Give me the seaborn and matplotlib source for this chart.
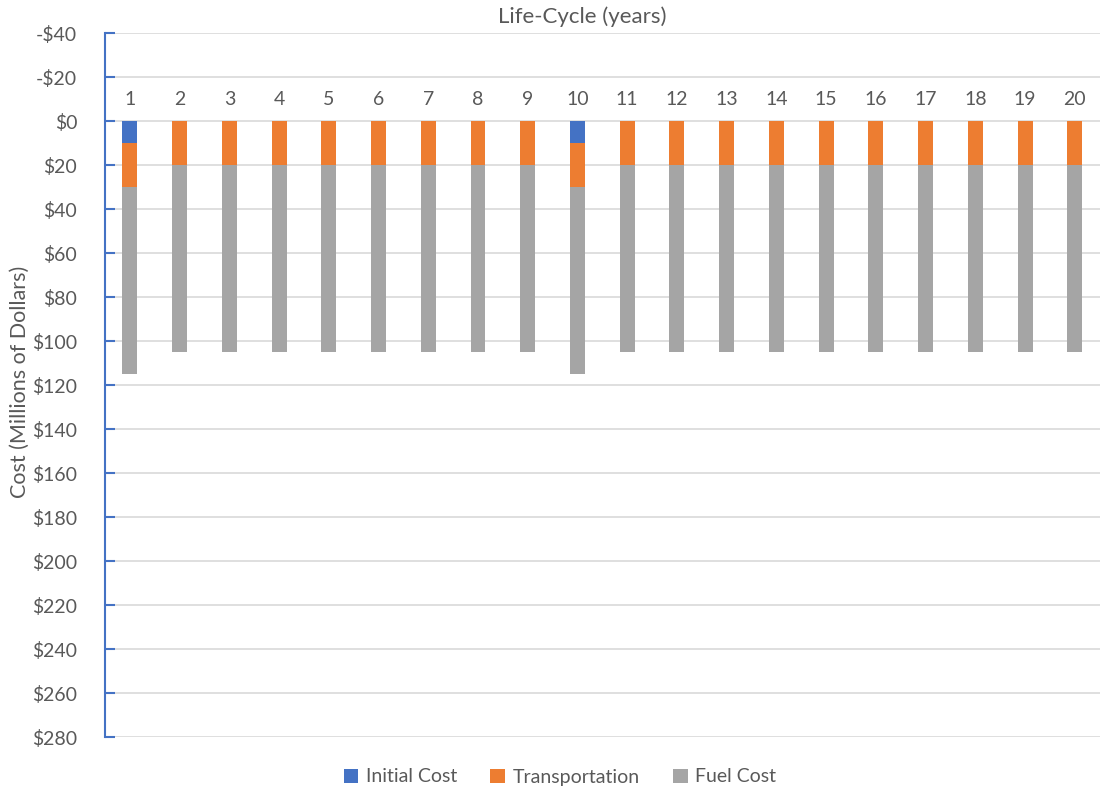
import matplotlib
matplotlib.use("Agg")
import matplotlib.pyplot as plt
from matplotlib.patches import Patch
import seaborn as sns
import pandas as pd

# Life-cycle cost per year (millions of dollars)
years = [str(y) for y in range(1, 21)]
initial_cost = [10, 0, 0, 0, 0, 0, 0, 0, 0, 10, 0, 0, 0, 0, 0, 0, 0, 0, 0, 0]
transportation = [20] * 20
fuel_cost = [85] * 20

y_ticks = list(range(-40, 281, 20))

sns.set_theme(style="white")
plt.rcParams["font.family"] = ["Lato", "DejaVu Sans"]

text_color = "#595959"
colors = {"Initial Cost": "#4472C4", "Transportation": "#ED7D31", "Fuel Cost": "#A5A5A5"}

df = pd.DataFrame({
    "year": years,
    "Initial Cost": initial_cost,
    "Transportation": transportation,
    "Fuel Cost": fuel_cost,
})
# cumulative stack heights, drawn back to front
df["to_transport"] = df["Initial Cost"] + df["Transportation"]
df["to_fuel"] = df["to_transport"] + df["Fuel Cost"]

W, H = 1103, 792
fig = plt.figure(figsize=(W / 100, H / 100), dpi=100)
ax = fig.add_axes([0.0952, 0.0694, 0.9018, 0.8889])

for col, name in [("to_fuel", "Fuel Cost"), ("to_transport", "Transportation"),
                  ("Initial Cost", "Initial Cost")]:
    sns.barplot(data=df, x="year", y=col, color=colors[name], width=0.3,
                saturation=1, ax=ax, edgecolor="none", linewidth=0)

ax.set_ylim(280, -40)
ax.set_xlim(-0.5, len(years) - 0.5)
ax.set_yticks(y_ticks)
ax.set_yticklabels([f"-${-v}" if v < 0 else f"${v}" for v in y_ticks],
                   fontsize=14, color=text_color)
ax.yaxis.grid(True, color="#D9D9D9", linewidth=1.2)
ax.set_axisbelow(True)

for s in ["top", "right", "bottom"]:
    ax.spines[s].set_visible(False)
ax.spines["left"].set_color("#4472C4")
ax.spines["left"].set_linewidth(1.5)
ax.tick_params(axis="y", direction="in", length=7, width=1.5, color="#4472C4",
               left=True, pad=20)

# category labels sit just above the zero line
ax.tick_params(axis="x", bottom=False, labelbottom=False)
for i, lab in enumerate(years):
    ax.text(i, -10, lab, ha="center", va="center", fontsize=14, color=text_color)

ax.set_xlabel("")
ax.set_ylabel("")
fig.text(20 / W, 1 - 382 / H, "Cost (Millions of Dollars)", rotation=90,
         ha="center", va="center", fontsize=15.5, color=text_color)
fig.text(582 / W, 1 - 17 / H, "Life-Cycle (years)", ha="center", va="center",
         fontsize=16, color=text_color)

handles = [Patch(facecolor=colors[n], edgecolor="none") for n in colors]
fig.legend(handles, list(colors), loc="center", bbox_to_anchor=(560 / W, 1 - 777 / H),
           ncol=3, frameon=False, fontsize=14, handlelength=0.75, handleheight=0.75,
           handletextpad=0.4, columnspacing=1.7, labelcolor=text_color)

fig.savefig("out.png", dpi=100)
